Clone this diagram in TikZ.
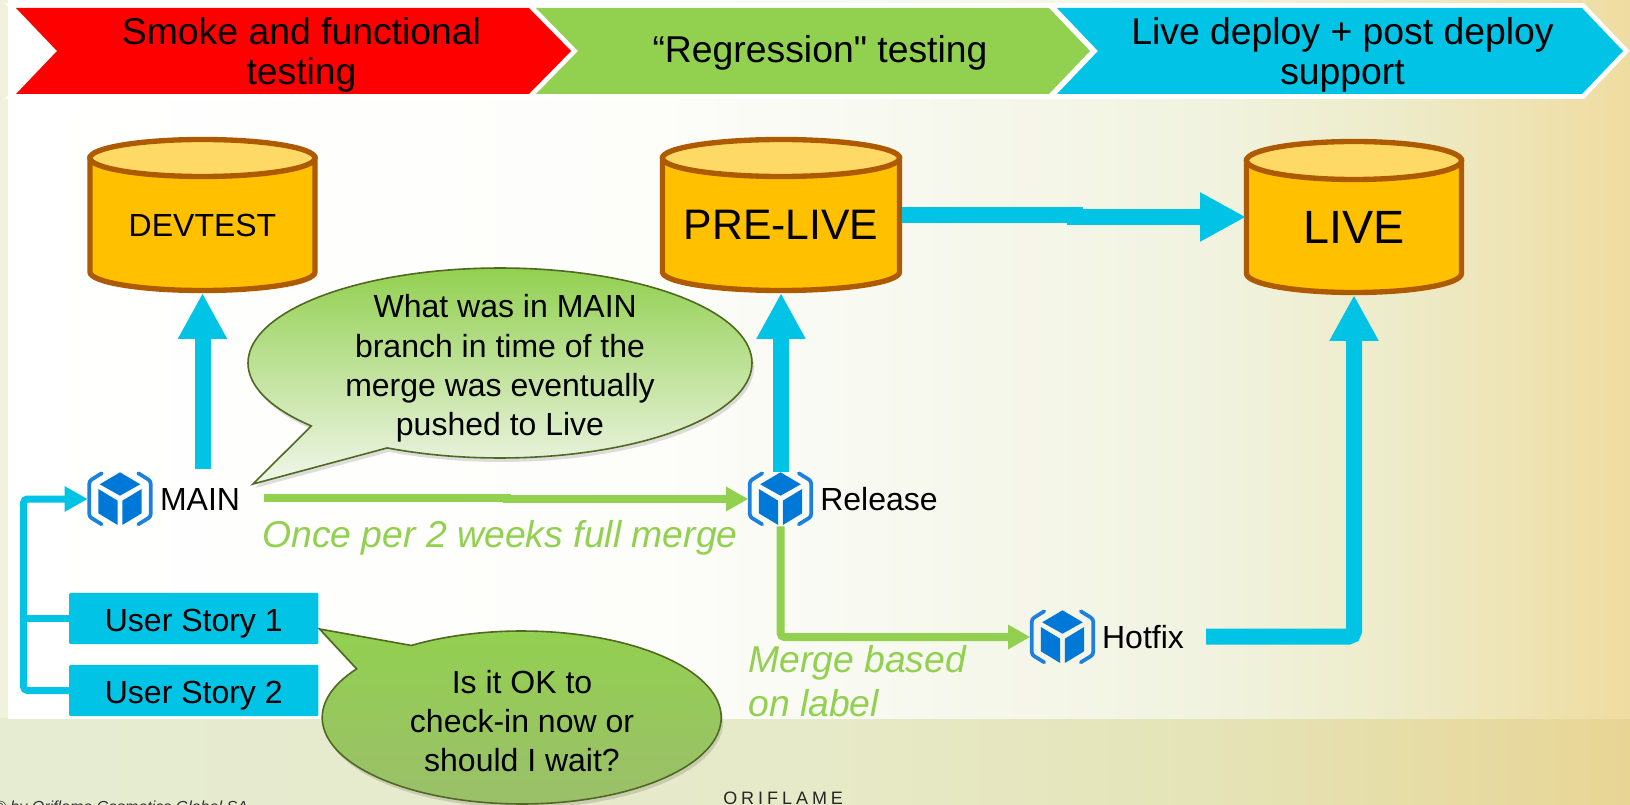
\documentclass[tikz,border=0pt]{standalone}
\usepackage{fontspec}
\setmainfont{Liberation Sans}[Ligatures=TeXOff]
\usetikzlibrary{arrows.meta,calc}
\definecolor{cyanA}{HTML}{00C3E6}
\definecolor{greenA}{HTML}{92D050}
\definecolor{redA}{HTML}{FF0000}
\definecolor{dbFill}{HTML}{FFC000}
\definecolor{dbTop}{HTML}{FFD966}
\definecolor{dbLine}{HTML}{AE5A00}
\definecolor{iconA}{HTML}{0078D7}
\definecolor{iconB}{HTML}{1B80E0}
\definecolor{callLine}{HTML}{4F6A20}
\definecolor{callMidA}{HTML}{A4C97C}
\definecolor{callEndA}{HTML}{F2F6EC}
\definecolor{callMidB}{HTML}{AECC8A}
\definecolor{callEndB}{HTML}{9BBF6A}
\definecolor{bgStrip}{HTML}{F0F2DC}
\definecolor{upA}{HTML}{FDFDFA}
\definecolor{upB}{HTML}{F9FAF3}
\definecolor{upC}{HTML}{F1F3E0}
\definecolor{upD}{HTML}{EDEBC8}
\definecolor{upE}{HTML}{EFDCA0}
\definecolor{loA}{HTML}{E6ECD2}
\definecolor{loB}{HTML}{E7EAC8}
\definecolor{loC}{HTML}{E5E4B8}
\definecolor{loD}{HTML}{E8D594}
\pgfdeclarehorizontalshading{bgupper}{100bp}{
  color(0bp)=(white); color(25bp)=(white); color(45bp)=(upA);
  color(50bp)=(upB); color(62bp)=(upC); color(68bp)=(upD);
  color(75bp)=(upE); color(100bp)=(upE)}
\pgfdeclarehorizontalshading{bglower}{100bp}{
  color(0bp)=(loA); color(25bp)=(loA); color(50bp)=(loB); color(62bp)=(loC);
  color(75bp)=(loD); color(100bp)=(loD)}
\tikzset{
  txt28/.style={font=\fontsize{28}{30}\selectfont,align=center,inner sep=0pt,text=black},
  txt24/.style={font=\fontsize{24}{29}\selectfont,align=center,inner sep=0pt,text=black},
  lbl/.style={font=\fontsize{24}{28}\selectfont,inner sep=0pt,text=black},
  greentxt/.style={font=\fontsize{28}{33.5}\selectfont\itshape,inner sep=0pt,text=greenA,align=left},
  chev/.style={preaction={draw=white,line width=7.2pt,miter limit=10}},
  dbshape/.style={draw=dbLine,line width=4pt},
  fatarrow/.style={draw=cyanA,line width=12pt,-{Triangle[length=34.5pt,width=34.5pt,fill=cyanA]}},
  greenarrow/.style={draw=greenA,line width=6pt,-{Triangle[length=16.5pt,width=17.25pt,fill=greenA]}},
  bluelink/.style={draw=cyanA,line width=5.25pt},
  storybox/.style={fill=cyanA,minimum width=187pt,minimum height=38.5pt,inner sep=0pt,rounded corners=1pt,font=\fontsize{24}{28}\selectfont,text height=19.5pt,text depth=0pt},
  iconbox/.style={minimum width=48pt,minimum height=40.5pt,inner sep=0pt},
  calloutA/.style={draw=callLine,line width=1.2pt},
  callshadow/.style={fill=black,opacity=0.13},
}
\newcommand{\dbcyl}[9]{% name cx topcy bodyY rx ry size text texty
  \path[dbshape,fill=dbFill] ({#2-#5},#3) -- ({#2-#5},#4)
    .. controls ({#2-#5},{#4+.5523*#6}) and ({#2-.5523*#5},{#4+#6}) .. (#2,{#4+#6})
    .. controls ({#2+.5523*#5},{#4+#6}) and ({#2+#5},{#4+.5523*#6}) .. ({#2+#5},#4)
    -- ({#2+#5},#3) -- cycle;
  \path[dbshape,fill=dbTop] ({#2-#5},#3)
    .. controls ({#2-#5},{#3-.5523*#6}) and ({#2-.5523*#5},{#3-#6}) .. (#2,{#3-#6})
    .. controls ({#2+.5523*#5},{#3-#6}) and ({#2+#5},{#3-.5523*#6}) .. ({#2+#5},#3)
    .. controls ({#2+#5},{#3+.5523*#6}) and ({#2+.5523*#5},{#3+#6}) .. (#2,{#3+#6})
    .. controls ({#2-.5523*#5},{#3+#6}) and ({#2-#5},{#3+.5523*#6}) .. ({#2-#5},#3) -- cycle;
  \node[minimum width={(2*#5+5)*0.75pt},minimum height={(#4+#6-#3+#6+5)*0.75pt},inner sep=0pt,outer sep=0pt]
     (#1) at (#2,{(#3-#6+#4+#6)/2}) {};
  \node[inner sep=0pt,font=\fontsize{#7}{#7}\selectfont] (#1txt) at (#2,#9) {#8};
}
\newcommand{\cubeicon}[3]{% name cx cy
  \node[iconbox] (#1) at (#2,#3) {};
  \begin{scope}[shift={(#2,#3)}]
    \fill[iconA] (0,-26.7) -- (20.3,-14.7) -- (0,-3.3) -- (-20.3,-14.7) -- cycle;
    \fill[iconA] (-21.7,-10) -- (-2.3,1.7) -- (-2.3,26) -- (-21.7,14.3) -- cycle;
    \fill[iconA] (21.7,-10) -- (2.3,1.7) -- (2.3,26) -- (21.7,14.3) -- cycle;
    \draw[iconB,line width=2.8pt,line cap=round,rounded corners=2pt] (-18.3,-25.7) -- (-30.7,-18) -- (-30.7,17.7) -- (-18.3,25.3);
    \draw[iconB,line width=2.8pt,line cap=round,rounded corners=2pt] (18.3,-25.7) -- (30.7,-18) -- (30.7,17.7) -- (18.3,25.3);
  \end{scope}
}
\begin{document}
\begin{tikzpicture}[x=0.75pt,y=-0.75pt]
\useasboundingbox (0,0) rectangle (1630,805);
\begin{scope}
\clip (0,0) rectangle (1630,805);
% background
\fill[bgStrip] (0,0) rectangle (1630,805);
\path[shading=bglower] (0,718) rectangle (1630,805);
\path[shading=bgupper] (8,0) rectangle (1630,718);
% chevrons
\fill[redA,chev] (16,8) -- (529,8) -- (572,51) -- (529,94) -- (16,94) -- (57,51) -- cycle;
\fill[greenA,chev] (536,8) -- (1049,8) -- (1090,51) -- (1049,94) -- (536,94) -- (578,51) -- cycle;
\fill[cyanA,chev] (1057,8) -- (1582,8) -- (1623,51) -- (1582,94) -- (1057,94) -- (1098,51) -- cycle;
\node[txt28] (h1) at (301.5,55) {Smoke and functional\\testing};
\node[txt28,anchor=base] (h2) at (820,63) {“Regression" testing};
\node[txt28] (h3) at (1342.5,55) {Live deploy + post deploy\\support};
% databases
\dbcyl{devtest}{202.5}{158}{272}{112.5}{18.5}{24}{DEVTEST}{225}
\dbcyl{prelive}{781}{158}{272}{118.5}{18.5}{32}{PRE-LIVE}{225}
\dbcyl{live}{1354}{160.5}{273.5}{107.5}{19}{35}{LIVE}{227}
% icons and labels
\cubeicon{mainicon}{120}{499}
\cubeicon{relicon}{780.5}{499}
\cubeicon{hoticon}{1062.5}{637}
\node[lbl,minimum height=45pt] (mainlbl) at (200,499) {MAIN};
\node[lbl] (rellbl) at (879,499) {Release};
\node[lbl] (hotlbl) at (1143,637) {Hotfix};
\coordinate (hfout) at (1206,636.5);
% stories
\node[storybox] (us1) at (193.8,618.5) {User Story 1};
\node[storybox] (us2) at (193.8,690.5) {User Story 2};
% connectors
\draw[fatarrow] (devtest.south |- mainlbl.north) -- (devtest.south);
\draw[fatarrow] (prelive.south |- relicon.north) -- (prelive.south);
\coordinate (j1) at (1075,215);
\coordinate (j2) at (1075,217);
\draw[fatarrow,shorten >=-1.5pt] (prelive.east) -- (j1) -- (j2) -- (live.west);
\draw[fatarrow,rounded corners=4pt] (hfout) -| (live.south);
\coordinate (gs) at (263.5,498);
\coordinate (g1) at (507,498);
\coordinate (g2) at (507,499);
\draw[greenarrow] (gs) -- (g1) -- (g2) -- (relicon.west);
\draw[greenarrow,rounded corners=3pt] (relicon.south) |- (hoticon.west);
\coordinate (trunktop) at (23.5,499);
\draw[bluelink,line cap=butt] (us1.west) -- (us1.west -| trunktop);
\draw[bluelink,rounded corners=3pt,-{Triangle[length=17.25pt,width=18pt,fill=cyanA]}] (us2.west) -| (trunktop) -- (mainicon.west);
% callouts
\path[callshadow,shift={(2,4)}]
  plot[domain=138.5:476.6,samples=140] ({500+252*cos(\x)},{363+95*sin(\x)}) -- (253,484) -- cycle;
\path[calloutA,top color=greenA,middle color=callMidA,bottom color=callEndA]
  plot[domain=138.5:476.6,samples=140] ({500+252*cos(\x)},{363+95*sin(\x)}) -- (253,484) -- cycle;
\node[txt24,font=\fontsize{24}{29.4}\selectfont] (c1) at (500,368.5) {\hspace*{7.8pt}What was in MAIN\\branch in time of the\\merge was eventually\\pushed to Live};
\path[callshadow,shift={(2,4)}]
  plot[domain=236.4:574.2,samples=140] ({521.7+199.5*cos(\x)},{717.5+86.5*sin(\x)}) -- (319.6,629) -- cycle;
\path[calloutA,top color=greenA,middle color=callMidB,bottom color=callEndB]
  plot[domain=236.4:574.2,samples=140] ({521.7+199.5*cos(\x)},{717.5+86.5*sin(\x)}) -- (319.6,629) -- cycle;
\node[txt24,font=\fontsize{24}{29.5}\selectfont] (c2) at (522,721) {Is it OK to\\check-in now or\\should I wait?};
% green notes
\node[greentxt,anchor=base] (n1) at (500,547) {Once per 2 weeks full merge};
\node[greentxt,anchor=north west] (n2) at (748,645) {Merge based\\on label};
% footer
\node[anchor=base west,inner sep=0pt,font=\fontsize{12}{14}\selectfont\itshape,text=black!80] (ft) at (-6,812.5) {© by Oriflame Cosmetics Global SA};
\node[anchor=base west,inner sep=0pt,font=\fontsize{13.5}{14}\selectfont\addfontfeature{LetterSpace=22},text=black!85] (logo) at (723,804.5) {ORIFLAME};
\end{scope}
\end{tikzpicture}
\end{document}
